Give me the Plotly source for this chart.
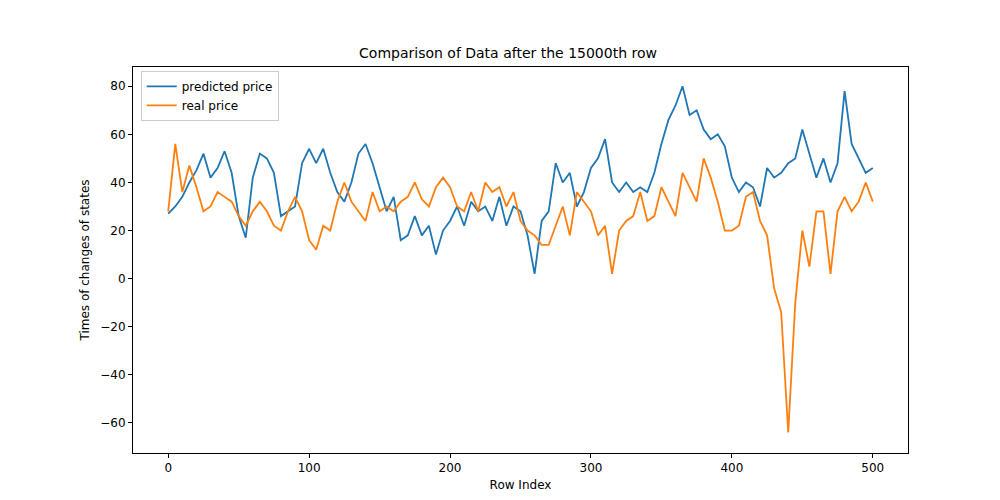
import plotly.graph_objects as go

row_idx = list(range(0, 501, 5))
predicted = [27, 30, 34, 40, 45, 52, 42, 46, 53, 44, 26, 17, 42, 52, 50, 44, 26, 28, 30, 48,
             54, 48, 54, 44, 36, 32, 40, 52, 56, 48, 38, 28, 34, 16, 18, 26, 18, 22, 10, 20,
             24, 30, 22, 32, 28, 30, 24, 34, 22, 30, 28, 18, 2, 24, 28, 48, 40, 44, 30, 36,
             46, 50, 58, 40, 36, 40, 36, 38, 36, 44, 56, 66, 72, 80, 68, 70, 62, 58, 60, 55,
             42, 36, 40, 38, 30, 46, 42, 44, 48, 50, 62, 52, 42, 50, 40, 48, 78, 56, 50, 44, 46]
real = [28, 56, 36, 47, 38, 28, 30, 36, 34, 32, 26, 22, 28, 32, 28, 22, 20, 28, 34, 28,
        16, 12, 22, 20, 32, 40, 32, 28, 24, 36, 28, 30, 28, 32, 34, 40, 33, 30, 38, 42,
        38, 30, 28, 36, 28, 40, 36, 38, 30, 36, 24, 20, 18, 14, 14, 22, 30, 18, 36, 32,
        28, 18, 22, 2, 20, 24, 26, 36, 24, 26, 38, 32, 26, 44, 38, 32, 50, 42, 32, 20,
        20, 22, 34, 36, 24, 18, -4, -14, -64, -10, 20, 5, 28, 28, 2, 28, 34, 28, 32, 40, 32]

fig = go.Figure()
fig.add_trace(go.Scatter(x=row_idx, y=predicted, mode="lines", name="predicted price",
                         line=dict(color="#1f77b4", width=1.8)))
fig.add_trace(go.Scatter(x=row_idx, y=real, mode="lines", name="real price",
                         line=dict(color="#ff7f0e", width=1.8)))

axis_style = dict(showgrid=False, zeroline=False, showline=True, linecolor="black", mirror=True,
                  ticks="outside", tickcolor="black", ticklen=4)
fig.update_layout(
    width=1000, height=500, template="simple_white",
    font=dict(family="DejaVu Sans", size=12, color="black"),
    title=dict(text="Comparison of Data after the 15000th row", x=0.5, xanchor="center",
               y=0.92, font=dict(size=14)),
    margin=dict(l=125, r=100, t=59, b=55),
    xaxis=dict(title=dict(text="Row Index", standoff=6, font=dict(size=12)),
               range=[-25, 525], tickvals=[0, 100, 200, 300, 400, 500], **axis_style),
    yaxis=dict(title=dict(text="Times of changes of states", standoff=8, font=dict(size=12)),
               range=[-72.5, 88], tickvals=list(range(-60, 81, 20)), **axis_style),
    legend=dict(x=0.01, y=0.99, xanchor="left", yanchor="top", bordercolor="#ccc", borderwidth=1),
)
fig.write_html("out.html")
